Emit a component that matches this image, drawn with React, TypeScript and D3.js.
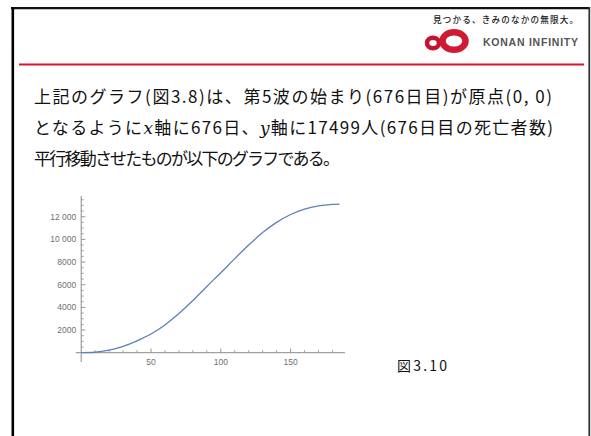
import React from 'react';
import * as d3 from 'd3';

// days since start of wave 5 and shifted deaths
const days = [0, 10, 20, 30, 40, 50, 60, 70, 80, 90, 100, 110, 120, 130, 140, 150, 160, 170, 180, 185];
const deaths = [0, 40, 220, 560, 1050, 1650, 2450, 3450, 4600, 5850, 7050, 8300, 9500, 10600, 11500, 12200, 12680, 12960, 13090, 13120];

const xMajor = [50, 100, 150];
const yMajor = [2000, 4000, 6000, 8000, 10000, 12000];
const yTickLabels = ['2000', '4000', '6000', '8000', '10 000', '12 000'];

const textLines = [
  '上記のグラフ(図3.8)は、第5波の始まり(676日目)が原点(0, 0)',
  'となるように|x|軸に676日、|y|軸に17499人(676日目の死亡者数)',
  '平行移動させたものが以下のグラフである。',
];
const lineWidths = [518, 519, 306];

const W = 591;
const H = 436;

const App: React.FC = () => {
  const x = d3.scaleLinear().domain([0, 189]).range([81.2, 345]);
  const y = d3.scaleLinear().domain([0, 13830]).range([352.7, 196]);

  const line = d3.line<number>()
    .x((_, i) => x(days[i]))
    .y(d => y(d))
    .curve(d3.curveMonotoneX);

  const xMinor = d3.range(10, 190, 10).filter(v => !xMajor.includes(v));
  const yMinor = d3.range(500, 13830, 500).filter(v => !yMajor.includes(v));

  const axisColor = '#8a8a8a';
  const labelColor = '#707070';
  const jp = '"Noto Sans CJK JP", "Noto Sans", sans-serif';

  return (
    <div style={{ position: 'fixed', left: 0, top: 0 }}>
      <svg width={W} height={H} viewBox={`0 0 ${W} ${H}`} style={{ display: 'block', background: '#fff' }}>
        {/* slide frame */}
        <line x1={11} x2={590} y1={8.2} y2={8.2} stroke="#111" strokeWidth={2.2} />
        <line x1={12.8} x2={12.8} y1={7} y2={H} stroke="#000" strokeWidth={2.6} />
        <line x1={589.3} x2={589.3} y1={7} y2={H} stroke="#333" strokeWidth={1.8} />

        {/* header */}
        <text x={578} y={23} textAnchor="end" fontFamily={jp} fontSize={8.6} fontWeight={500} fill="#222"
          textLength={145} lengthAdjust="spacing">見つかる、きみのなかの無限大。</text>
        <text x={578} y={46} textAnchor="end" fontFamily='"Liberation Sans", Arial, sans-serif' fontSize={10.5}
          fontWeight={700} fill="#555" textLength={95} lengthAdjust="spacing">KONAN INFINITY</text>
        <g>
          <ellipse cx={433} cy={43} rx={6} ry={5.2} fill="none" stroke="#c4122f" strokeWidth={4.5} />
          <ellipse cx={454} cy={41} rx={11.5} ry={8.8} fill="none" stroke="#cf1a33" strokeWidth={6.5} />
        </g>
        <line x1={19} x2={584} y1={64.5} y2={64.5} stroke="#d5142e" strokeWidth={2} />

        {/* paragraph */}
        {textLines.map((t, i) => (
          <text key={i} x={34} y={103 + i * 31} fontFamily={jp} fontSize={17} fontWeight={400} fill="#111"
            textLength={lineWidths[i]} lengthAdjust="spacing">
            {t.split('|').map((part, j) =>
              j % 2 === 1
                ? <tspan key={j} fontFamily='"DejaVu Serif", "Liberation Serif", serif' fontStyle="italic">{part}</tspan>
                : <tspan key={j}>{part}</tspan>
            )}
          </text>
        ))}

        {/* plot */}
        <g>
          <line x1={75.7} x2={345} y1={y(0)} y2={y(0)} stroke={axisColor} strokeWidth={1} />
          <line x1={x(0)} x2={x(0)} y1={196} y2={362} stroke={axisColor} strokeWidth={1} />
          {xMinor.map(v => (
            <line key={'xm' + v} x1={x(v)} x2={x(v)} y1={y(0)} y2={y(0) - 2.5} stroke={axisColor} strokeWidth={0.8} />
          ))}
          {xMajor.map(v => (
            <g key={'xM' + v}>
              <line x1={x(v)} x2={x(v)} y1={y(0)} y2={y(0) - 4.2} stroke={axisColor} strokeWidth={0.9} />
              <text x={x(v)} y={y(0) + 12} textAnchor="middle" fontFamily='"Liberation Sans", Arial, sans-serif'
                fontSize={8.5} fill={labelColor}>{v}</text>
            </g>
          ))}
          {yMinor.map(v => (
            <line key={'ym' + v} x1={x(0)} x2={x(0) + 2.5} y1={y(v)} y2={y(v)} stroke={axisColor} strokeWidth={0.8} />
          ))}
          {yMajor.map((v, i) => (
            <g key={'yM' + v}>
              <line x1={x(0)} x2={x(0) + 4.2} y1={y(v)} y2={y(v)} stroke={axisColor} strokeWidth={0.9} />
              <text x={x(0) - 5} y={y(v) + 3} textAnchor="end" fontFamily='"Liberation Sans", Arial, sans-serif'
                fontSize={8.5} fill={labelColor}>{yTickLabels[i]}</text>
            </g>
          ))}
          <path d={line(deaths) || ''} fill="none" stroke="#5e81b5" strokeWidth={1.3} />
        </g>

        <text x={397} y={371} fontFamily={jp} fontSize={14} fill="#111" textLength={50} lengthAdjust="spacing">図3.10</text>
      </svg>
    </div>
  );
};

export default App;
